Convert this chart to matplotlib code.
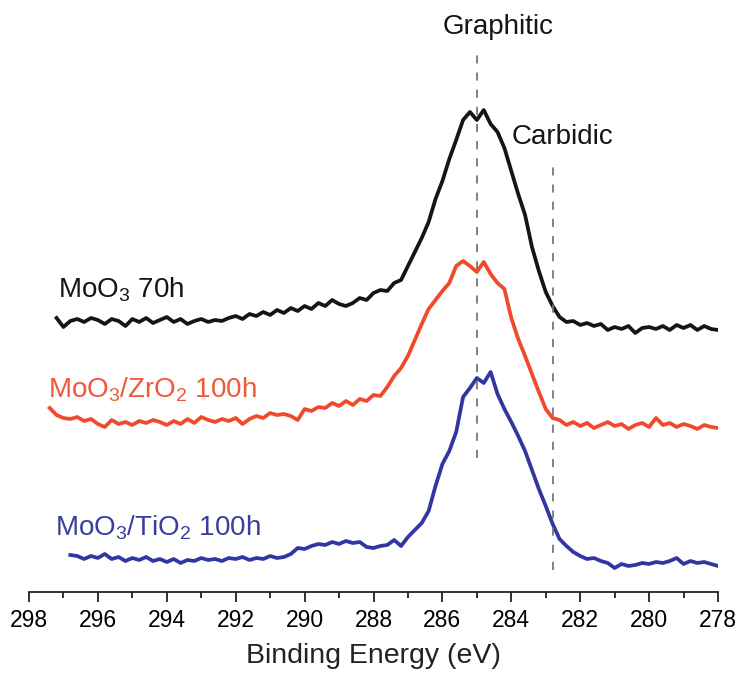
import numpy as np
import matplotlib
matplotlib.use("Agg")
import matplotlib.pyplot as plt

plt.rcParams["font.family"] = ["Liberation Sans", "DejaVu Sans"]
plt.rcParams["mathtext.fontset"] = "custom"
plt.rcParams["mathtext.rm"] = "Liberation Sans"
plt.rcParams["mathtext.it"] = "Liberation Sans"

# C 1s spectra, stacked (arbitrary units, offset for clarity), 0.2 eV steps
be_moo3 = np.round(np.arange(297.2, 277.9, -0.2), 1)
moo3_70h = [
    274, 265, 271, 273, 270, 274, 272, 268, 273, 271,
    266, 273, 270, 274, 269, 272, 275, 270, 273, 268,
    271, 273, 270, 272, 271, 274, 276, 273, 278, 276,
    280, 277, 282, 279, 284, 281, 286, 283, 289, 286,
    292, 288, 286, 289, 294, 292, 299, 302, 301, 309,
    312, 326, 340, 354, 370, 393, 411, 433, 452, 472,
    480, 472, 482, 468, 460, 444, 421, 398, 377, 345,
    321, 300, 286, 275, 270, 271, 267, 269, 266, 268,
    262, 265, 263, 266, 259, 264, 265, 263, 266, 262,
    267, 264, 267, 262, 266, 263, 262,
]

be_zr = np.round(np.arange(297.4, 277.9, -0.2), 1)
moo3_zro2_100h = [
    184, 177, 174, 173, 175, 171, 173, 168, 165, 172,
    168, 170, 167, 171, 169, 172, 170, 167, 171, 168,
    173, 169, 175, 172, 170, 173, 171, 174, 168, 173,
    176, 174, 179, 177, 178, 176, 172, 183, 181, 185,
    184, 189, 186, 191, 187, 193, 191, 197, 196, 205,
    216, 224, 236, 252, 268, 283, 292, 301, 309, 326,
    331, 326, 320, 330, 318, 309, 303, 274, 253, 236,
    218, 200, 183, 174, 172, 167, 170, 166, 169, 164,
    167, 170, 166, 168, 163, 167, 169, 165, 174, 167,
    169, 165, 168, 166, 163, 167, 165, 164,
]

be_ti = np.round(np.arange(296.8, 277.9, -0.2), 1)
moo3_tio2_100h = [
    37, 36, 33, 36, 34, 38, 33, 35, 31, 34,
    32, 35, 31, 33, 30, 33, 29, 32, 31, 34,
    32, 33, 31, 34, 33, 35, 32, 34, 33, 36,
    34, 35, 38, 44, 43, 46, 48, 47, 50, 48,
    51, 49, 50, 45, 44, 46, 47, 52, 46, 55,
    62, 69, 81, 106, 128, 141, 160, 195, 204, 214,
    209, 220, 198, 183, 170, 156, 141, 122, 103, 86,
    68, 53, 46, 40, 36, 33, 34, 31, 29, 24,
    28, 26, 27, 29, 28, 30, 29, 31, 34, 28,
    31, 29, 30, 28, 26,
]

labels = [r"MoO$_\mathrm{3}$ 70h",
          r"MoO$_\mathrm{3}$/ZrO$_\mathrm{2}$ 100h",
          r"MoO$_\mathrm{3}$/TiO$_\mathrm{2}$ 100h"]
line_colors = ["#151515", "#f04a2a", "#3236a0"]
label_colors = ["#151515", "#f0583a", "#3a3e9c"]
label_pos = [(297.16, 295), (297.45, 195), (297.25, 57)]

ref_peaks = ["Graphitic", "Carbidic"]
ref_energy = [285.0, 282.8]
ref_span = [(134, 545), (22, 432)]
ref_text = [(284.39, 565), (282.5, 455)]

fig = plt.figure(figsize=(7.41, 6.76), dpi=100)
ax = fig.add_axes([29 / 741, 84 / 676, 689 / 741, 592 / 676])

for x, y, c in zip([be_moo3, be_zr, be_ti],
                   [moo3_70h, moo3_zro2_100h, moo3_tio2_100h], line_colors):
    ax.plot(x, y, color=c, lw=2.7, solid_joinstyle="round")

for lab, c, (lx, ly) in zip(labels, label_colors, label_pos):
    ax.text(lx, ly, lab, color=c, fontsize=20, ha="left", va="baseline")

for name, e, (y0, y1), (tx, ty) in zip(ref_peaks, ref_energy, ref_span, ref_text):
    ax.plot([e, e], [y0, y1], color="#777777", lw=1.3, ls=(0, (4.5, 5)))
    ax.text(tx, ty, name, fontsize=20, ha="center", va="center", color="#151515")

ax.set_xlim(298, 278)
ax.set_ylim(0, 592)
ax.set_xticks(np.arange(298, 277, -2))
ax.set_xticks(np.arange(297, 278, -2), minor=True)
ax.tick_params(axis="x", which="major", direction="out", length=7, width=1.3,
               labelsize=16.5, pad=5, color="#222222")
ax.tick_params(axis="x", which="minor", direction="out", length=4, width=1.3,
               color="#222222")
ax.set_yticks([])
for s in ["left", "right", "top"]:
    ax.spines[s].set_visible(False)
ax.spines["bottom"].set_linewidth(1.3)
ax.spines["bottom"].set_color("#222222")
ax.set_xlabel("Binding Energy (eV)", fontsize=20.5, labelpad=8, color="#222222")

fig.savefig("out.png", dpi=100)
